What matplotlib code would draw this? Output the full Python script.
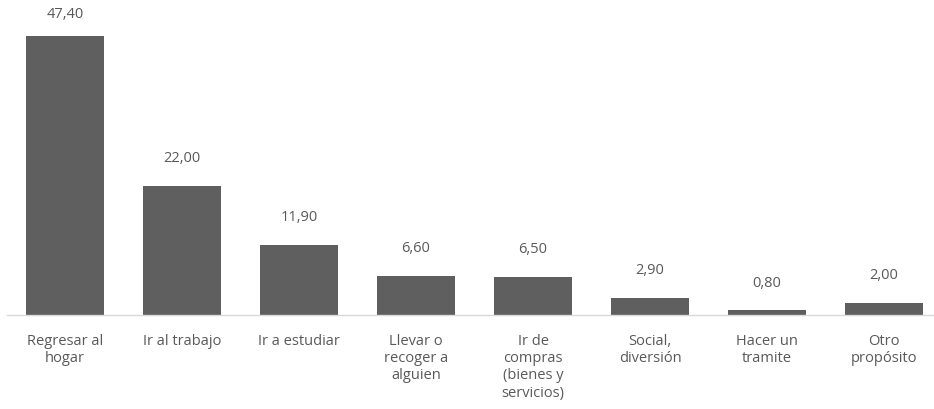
import matplotlib
matplotlib.use("Agg")
import matplotlib.pyplot as plt

categories = [
    "Regresar al\nhogar",
    "Ir al trabajo",
    "Ir a estudiar",
    "Llevar o\nrecoger a\nalguien",
    "Ir de\ncompras\n(bienes y\nservicios)",
    "Social,\ndiversión",
    "Hacer un\ntramite",
    "Otro\npropósito",
]
values = [47.40, 22.00, 11.90, 6.60, 6.50, 2.90, 0.80, 2.00]

plt.rcParams["font.family"] = ["Open Sans", "DejaVu Sans"]
text_color = "#595959"
bar_color = "#5f5f5f"

fig = plt.figure(figsize=(9.34, 4.10), dpi=100)
ax = fig.add_axes([6.5 / 934, 94 / 410, 936 / 934, 316 / 410])

x = list(range(len(categories)))
ax.bar(x, values, width=0.667, color=bar_color, zorder=2)

ymax = 53.7
ax.set_ylim(0, ymax)
ax.set_xlim(-0.5, len(categories) - 0.5)

for xi, v in zip(x, values):
    ty = min(v + 4.8, ymax - 2.5)
    ax.text(xi, ty, f"{v:.2f}".replace(".", ","), ha="center", va="center",
            fontsize=10.5, color=text_color)

ax.set_xticks(x)
ax.set_xticklabels(categories, fontsize=10.5, color=text_color, linespacing=1.2, va="top")
ax.tick_params(axis="x", length=0, pad=13)
ax.set_yticks([])
for side in ["top", "left", "right"]:
    ax.spines[side].set_visible(False)
ax.spines["bottom"].set_color("#d9d9d9")
ax.spines["bottom"].set_linewidth(1.0)

fig.savefig("out.png", dpi=100)
